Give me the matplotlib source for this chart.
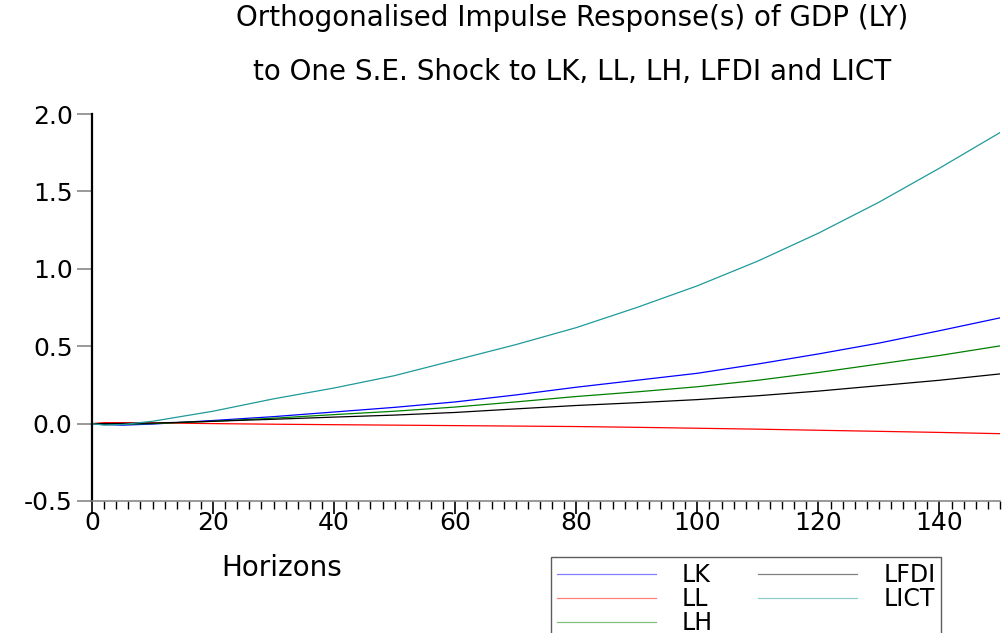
import matplotlib
matplotlib.use('Agg')
import matplotlib.pyplot as plt
from matplotlib.ticker import MultipleLocator

# horizons and responses
horizons = [0, 2, 5, 10, 20, 30, 40, 50, 60, 70, 80, 90, 100, 110, 120, 130, 140, 150]
lk = [0.0, -0.005, -0.01, -0.003, 0.02, 0.045, 0.075, 0.105, 0.14, 0.185, 0.235, 0.28,
      0.325, 0.385, 0.45, 0.52, 0.60, 0.683]
ll = [0.0, 0.006, 0.006, 0.005, 0.0, -0.004, -0.007, -0.01, -0.013, -0.016, -0.019, -0.024,
      -0.03, -0.036, -0.043, -0.05, -0.057, -0.065]
lh = [0.0, -0.002, -0.004, 0.0, 0.015, 0.035, 0.058, 0.08, 0.107, 0.14, 0.175, 0.205,
      0.238, 0.28, 0.33, 0.385, 0.44, 0.502]
lfdi = [0.0, 0.0, 0.001, 0.003, 0.015, 0.028, 0.042, 0.055, 0.072, 0.095, 0.117, 0.135,
        0.155, 0.18, 0.21, 0.245, 0.28, 0.321]
lict = [0.0, -0.01, -0.006, 0.015, 0.08, 0.16, 0.23, 0.31, 0.41, 0.51, 0.62, 0.75,
        0.89, 1.05, 1.23, 1.43, 1.65, 1.88]

names = ['LK', 'LL', 'LH', 'LFDI', 'LICT']
colors = ['#0000ff', '#ff0000', '#008000', '#000000', '#1f9a9a']

plt.rcParams['font.family'] = ['DejaVu Sans']

fig = plt.figure(figsize=(10.03, 6.33), dpi=100)
ax = fig.add_axes([92 / 1003, 1 - 501 / 633, 908 / 1003, 387 / 633])

for series, name, col in zip([lk, ll, lh, lfdi, lict], names, colors):
    ax.plot(horizons, series, color=col, lw=0.9, label=name)

ax.set_xlim(0, 150)
ax.set_ylim(-0.5, 2.0)
ax.set_yticks([-0.5, 0.0, 0.5, 1.0, 1.5, 2.0])
ax.set_yticklabels(['-0.5', '0.0', '0.5', '1.0', '1.5', '2.0'])
ax.xaxis.set_major_locator(MultipleLocator(20))
ax.xaxis.set_minor_locator(MultipleLocator(2))

for s in ['top', 'right']:
    ax.spines[s].set_visible(False)
ax.spines['left'].set_linewidth(1.6)
ax.spines['bottom'].set_color('#888888')
ax.spines['bottom'].set_linewidth(1.2)

ax.tick_params(axis='y', direction='out', length=11, width=1.2, color='#888888',
               labelsize=18, pad=3)
ax.tick_params(axis='x', which='major', direction='out', length=9, width=1.2,
               color='black', labelsize=18, pad=-2)
ax.tick_params(axis='x', which='minor', direction='out', length=6, width=1.0, color='black')

fig.text(572 / 1003, 1 - 18 / 633, 'Orthogonalised Impulse Response(s) of GDP (LY)',
         ha='center', va='center', fontsize=20)
fig.text(572 / 1003, 1 - 72 / 633, 'to One S.E. Shock to LK, LL, LH, LFDI and LICT',
         ha='center', va='center', fontsize=20)
fig.text(282 / 1003, 1 - 568 / 633, 'Horizons', ha='center', va='center', fontsize=20)

leg = fig.legend(loc='upper left', bbox_to_anchor=(551 / 1003, 1 - 557 / 633), ncol=2,
                 fontsize=17, frameon=True, fancybox=False, edgecolor='#333333',
                 handlelength=4.2, handletextpad=1.1, columnspacing=1.9,
                 labelspacing=0.0, borderpad=0.25, borderaxespad=0)
leg.get_frame().set_linewidth(1.0)
for line in leg.get_lines():
    line.set_alpha(0.5)

fig.savefig('out.png', dpi=100)
